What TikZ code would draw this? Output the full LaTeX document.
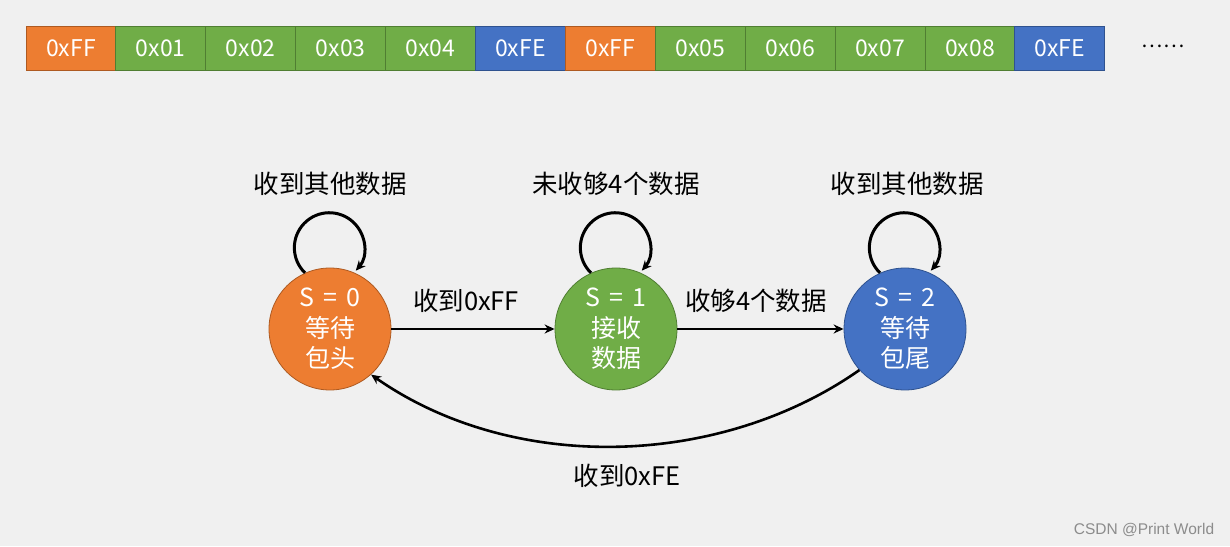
\documentclass[tikz,border=0pt]{standalone}
\usepackage{fontspec}
\setmainfont{Noto Sans CJK SC}
\newfontfamily\wmfont{Liberation Sans}
\usetikzlibrary{arrows.meta}
\definecolor{bg}{HTML}{F0F0F0}
\definecolor{cor}{HTML}{ED7D31}
\definecolor{cord}{HTML}{AE5A21}
\definecolor{cgr}{HTML}{70AD47}
\definecolor{cgrd}{HTML}{507E32}
\definecolor{cbl}{HTML}{4472C4}
\definecolor{cbld}{HTML}{2F528F}
\newcommand{\eqgap}{\hspace{0.35em}}
\tikzset{
  cell/.style={draw=#1d, fill=#1, line width=0.9pt, minimum width=89.9pt, minimum height=44pt,
    inner sep=0pt, text=white, font=\fontsize{23}{26}\selectfont},
  state/.style={circle, draw=#1d, fill=#1, line width=0.8pt, minimum size=122pt, inner sep=0pt,
    text=white, align=center, font=\fontsize{25}{30.5}\selectfont},
  lbl/.style={text=black, font=\fontsize{25.5}{30}\selectfont, inner sep=0pt},
  arr/.style={line width=2.6pt, -{Stealth[length=10pt,width=9pt]}},
  looparr/.style={line width=3pt, -{Stealth[length=10pt,width=9pt]}}
}
\begin{document}
\begin{tikzpicture}[x=1pt,y=1pt]
\fill[bg] (0,0) rectangle (1230,546);
\useasboundingbox (0,0) rectangle (1230,546);
% top data bar
\foreach \i/\c/\t in {0/cor/0xFF,1/cgr/0x01,2/cgr/0x02,3/cgr/0x03,4/cgr/0x04,5/cbl/0xFE,
  6/cor/0xFF,7/cgr/0x05,8/cgr/0x06,9/cgr/0x07,10/cgr/0x08,11/cbl/0xFE}{
  \node[cell=\c] (b\i) at ({26+44.95+89.9*\i},498) {\t};
}
\node[lbl, font=\fontsize{20}{24}\selectfont] (dots) at (1163,500) {……};
% states
\node[state=cor] (s0) at (330,217) {S\eqgap=\eqgap0\\等待\\包头};
\node[state=cgr] (s1) at (616,217) {S\eqgap=\eqgap1\\接收\\数据};
\node[state=cbl] (s2) at (905,217) {S\eqgap=\eqgap2\\等待\\包尾};
% self loops
\draw[looparr] (s0.114) arc[start angle=226, end angle=-41, radius=35];
\draw[looparr] (s1.114) arc[start angle=226, end angle=-41, radius=35];
\draw[looparr] (s2.114) arc[start angle=226, end angle=-41, radius=35];
\node[lbl] (l0) at (330,362) {收到其他数据};
\node[lbl] (l1) at (616,362) {未收够4个数据};
\node[lbl] (l2) at (907,362) {收到其他数据};
% transitions
\draw[arr] (s0) -- (s1);
\draw[arr] (s1) -- (s2);
\node[lbl] (t01) at (466,245) {收到0xFF};
\node[lbl] (t12) at (756,245) {收够4个数据};
\draw[arr] (s2.222) to[out=-145, in=-35, looseness=0.9] (s0.-48);
\node[lbl] (t20) at (627,70) {收到0xFE};
% watermark
\node[text=black!45, font=\wmfont\fontsize{15.5}{18}\selectfont] (wm) at (1144,16) {CSDN @Print World};
\end{tikzpicture}
\end{document}
